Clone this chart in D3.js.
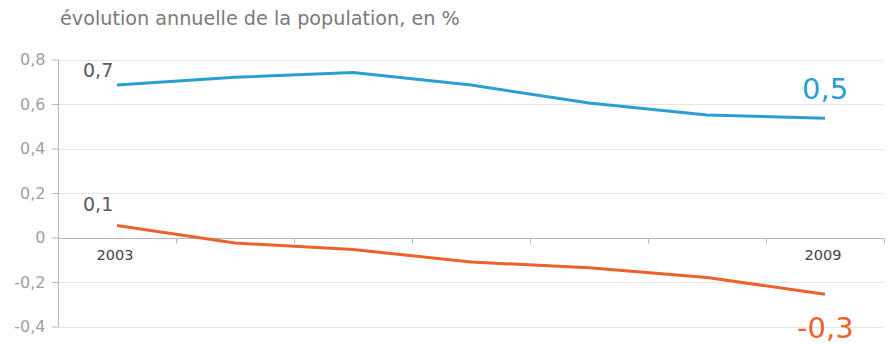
<!DOCTYPE html>
<html>
<head>
<meta charset="utf-8">
<script src="https://cdn.jsdelivr.net/npm/d3@7/dist/d3.min.js"></script>
<style>
  html, body { margin: 0; padding: 0; background: #fff; }
  svg { display: block; font-family: "DejaVu Sans", Verdana, sans-serif; }
</style>
</head>
<body>
<svg id="chart" width="892" height="344"></svg>
<script>
// Years on the horizontal axis
const years = [2003, 2004, 2005, 2006, 2007, 2008, 2009];
// Annual population change, in %
const seriesBlue = [0.685, 0.72, 0.742, 0.685, 0.605, 0.551, 0.536];
const seriesOrange = [0.054, -0.025, -0.054, -0.11, -0.136, -0.18, -0.255];
// Y axis ticks
const yTicks = [-0.4, -0.2, 0, 0.2, 0.4, 0.6, 0.8];
// Shown year labels and value labels (start, end)
const shownYears = [2003, 2009];
const blueLabels = ["0,7", "0,5"];
const orangeLabels = ["0,1", "-0,3"];
const title = "évolution annuelle de la population, en %";

const blueColor = "#2a9fd2";
const orangeColor = "#ec622c";

const svg = d3.select("#chart");
const left = 58, right = 884;
const x = d3.scaleBand().domain(years).range([left, right]);
const y = d3.scaleLinear().domain([-0.4, 0.8]).range([326.5, 59.5]);
// French-style decimals with a plain hyphen for negatives
const fmt = v => v === 0 ? "0" : d3.format(".1f")(v).replace(".", ",").replace("\u2212", "-");

// Title
svg.append("text").attr("x", 60).attr("y", 25)
  .attr("font-size", 19.2).attr("fill", "#7a7a7a").text(title);

// Horizontal gridlines
svg.append("g").selectAll("line").data(yTicks.filter(d => d !== 0)).join("line")
  .attr("x1", left).attr("x2", right)
  .attr("y1", d => Math.round(y(d)) + 0.5).attr("y2", d => Math.round(y(d)) + 0.5)
  .attr("stroke", "#e6e6e6");

// Y axis
const yAxis = svg.append("g").attr("transform", `translate(${left + 0.5},0)`)
  .call(d3.axisLeft(y).tickValues(yTicks).tickSize(7).tickPadding(6).tickFormat(fmt));
yAxis.select(".domain").attr("stroke", "#b8b8b8").attr("d", `M-0,${y(0.8)}V${y(-0.4)}`);
yAxis.selectAll(".tick line").attr("stroke", "#b8b8b8");
yAxis.selectAll(".tick text").attr("font-size", 16).attr("fill", "#a0a0a0")
  .attr("font-family", "DejaVu Sans, sans-serif");

// X axis along zero, ticks at band boundaries
const xTickPos = years.map(d => x(d)).concat([right]).slice(1);
const zeroY = Math.round(y(0)) + 0.5;
svg.append("line").attr("x1", left).attr("x2", right).attr("y1", zeroY).attr("y2", zeroY)
  .attr("stroke", "#b8b8b8");
svg.append("g").selectAll("line").data(xTickPos).join("line")
  .attr("x1", d => Math.round(d) + 0.5).attr("x2", d => Math.round(d) + 0.5)
  .attr("y1", zeroY).attr("y2", zeroY + 5).attr("stroke", "#b8b8b8");
svg.append("g").selectAll("text").data(shownYears).join("text")
  .attr("x", d => x(d) + x.bandwidth() / 2 - 2).attr("y", 260)
  .attr("text-anchor", "middle").attr("font-size", 14.5).attr("fill", "#444")
  .text(d => d);

// Lines
const line = d3.line().x((d, i) => x(years[i]) + x.bandwidth() / 2).y(d => y(d));
svg.append("path").datum(seriesBlue).attr("d", line)
  .attr("fill", "none").attr("stroke", blueColor).attr("stroke-width", 3);
svg.append("path").datum(seriesOrange).attr("d", line)
  .attr("fill", "none").attr("stroke", orangeColor).attr("stroke-width", 3);

// Start-of-series value labels
const cx = d => x(d) + x.bandwidth() / 2;
svg.append("text").attr("x", cx(2003) - 34).attr("y", 77)
  .attr("font-size", 19).attr("fill", "#5a5a5a").text(blueLabels[0]);
svg.append("text").attr("x", cx(2003) - 34).attr("y", 211)
  .attr("font-size", 19).attr("fill", "#5a5a5a").text(orangeLabels[0]);

// End-of-series value labels
svg.append("text").attr("x", cx(2009) - 23).attr("y", 99)
  .attr("font-size", 29).attr("fill", blueColor).text(blueLabels[1]);
svg.append("text").attr("x", cx(2009) - 28).attr("y", 338)
  .attr("font-size", 29).attr("fill", orangeColor).text(orangeLabels[1]);
</script>
</body>
</html>
